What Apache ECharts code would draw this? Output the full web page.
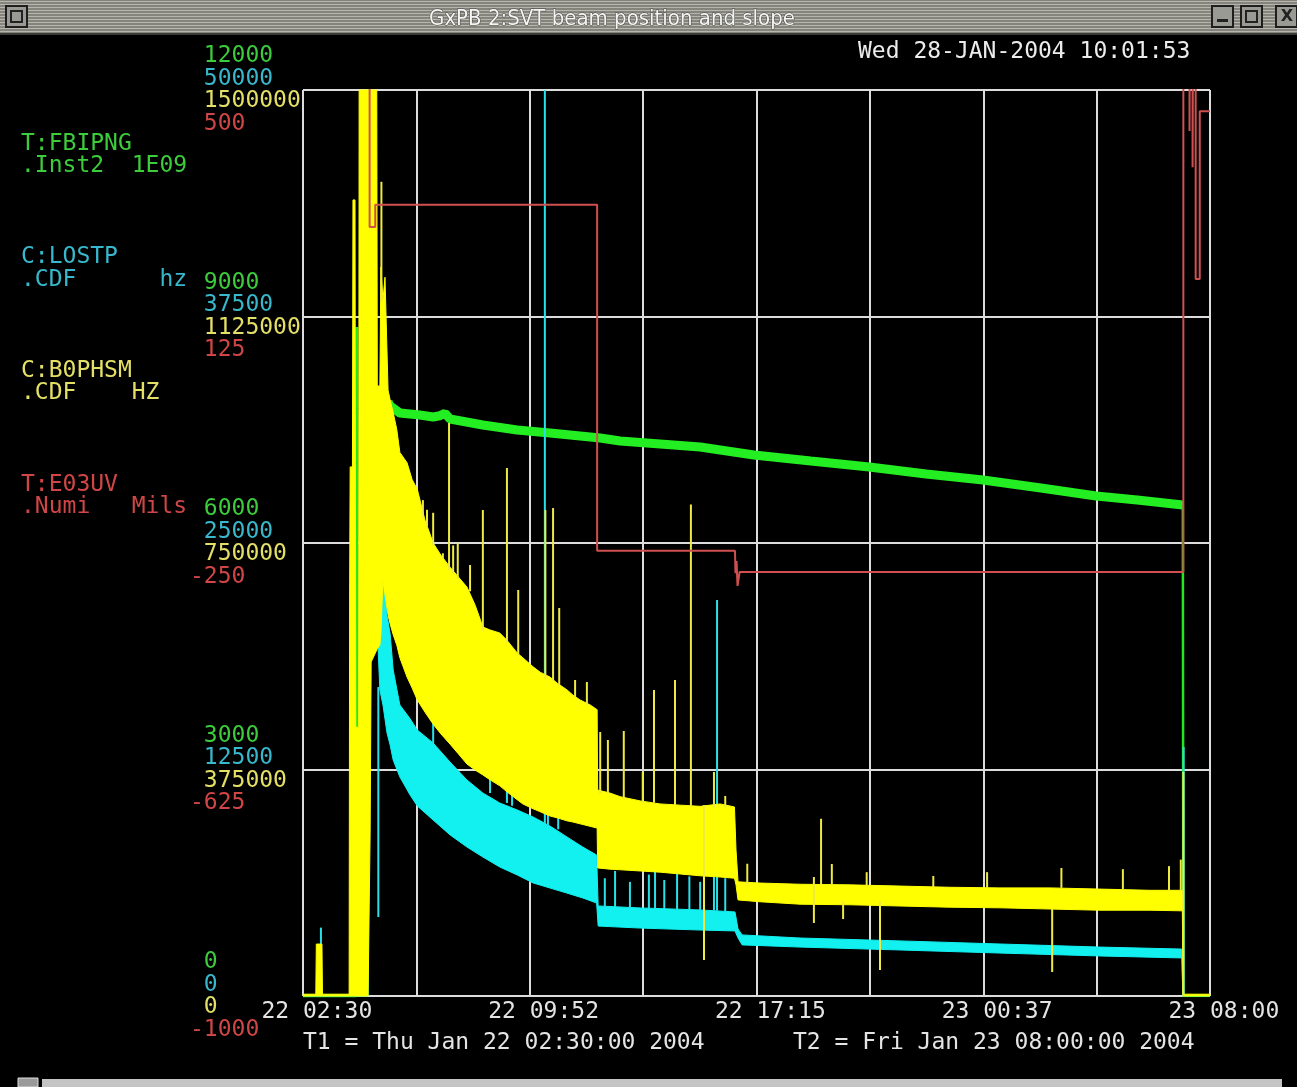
<!DOCTYPE html>
<html><head><meta charset="utf-8">
<script src="https://cdn.jsdelivr.net/npm/echarts@6/dist/echarts.min.js"></script>
<style>html,body{margin:0;padding:0;background:#000;overflow:hidden}#c{width:1297px;height:1087px;}</style>
</head><body><div id="c"></div>
<script>
// ---------- DATA (time in minutes after Thu Jan 22 02:30:00 2004) ----------
const xTickLabels = ['22 02:30', '22 09:52', '22 17:15', '23 00:37', '23 08:00'];
const titleText = 'GxPB 2:SVT beam position and slope';
const stampText = 'Wed 28-JAN-2004 10:01:53';
const t1Text = 'T1 = Thu Jan 22 02:30:00 2004';
const t2Text = 'T2 = Fri Jan 23 08:00:00 2004';
const legendGreen = ['T:FBIPNG', '.Inst2  1E09'];
const legendCyan = ['C:LOSTP', '.CDF      hz'];
const legendYellow = ['C:B0PHSM', '.CDF    HZ'];
const legendRed = ['T:E03UV', '.Numi   Mils'];

// T:E03UV (Mils) - red
const redT = [130, 130, 141, 141, 574, 574, 843, 844, 846, 848, 852, 1718, 1718, 1730, 1730, 1731, 1736, 1736, 1737, 1742, 1742, 1750, 1750, 1770];
const redV = [700, 273, 273, 310, 310, -263, -263, -300, -280, -321, -298, -298, 700, 700, 432, 700, 700, 372, 700, 700, 187, 187, 465, 465];

// T:FBIPNG - green
const greenT = [166, 170, 189, 228, 254, 267, 277, 287, 351, 418, 482, 580, 619, 775, 880, 991, 1105, 1216, 1327, 1440, 1548, 1628, 1717];
const greenV = [7870, 7815, 7722, 7695, 7669, 7685, 7718, 7642, 7563, 7497, 7457, 7391, 7351, 7272, 7166, 7086, 7007, 6914, 6834, 6728, 6623, 6570, 6503];
const greenRiseT = [0, 104, 105, 106, 166];
const greenRiseV = [0, 0, 8860, 3560, 7870];
const greenDropT = [1717, 1718, 1770];
const greenDropV = [6503, 0, 0];

// C:LOSTP (hz) - cyan band, low/high envelope
const cyanT  = [0, 88, 96, 111, 123, 127, 129, 146, 150, 156, 164, 170, 176, 189, 209, 223, 254, 287, 320, 351, 384, 418, 449, 482, 515, 546, 573, 576, 658, 775, 843, 849, 857, 970, 1165, 1360, 1555, 1715, 1717, 1770];
const cyanLo = [0, 0, 0, 0, 0, 0, 19000, 19500, 16900, 16060, 14510, 13850, 13020, 12090, 11090, 10490, 9710, 8890, 8220, 7670, 7120, 6680, 6240, 5960, 5680, 5410, 5130, 3860, 3750, 3640, 3590, 3200, 2820, 2700, 2540, 2370, 2210, 2100, 0, 0];
const cyanHi = [60, 60, 160, 1160, 3090, 5300, 24000, 24000, 25200, 23680, 21000, 20000, 17990, 16060, 15300, 14680, 13960, 12910, 11920, 11200, 10650, 10270, 9880, 9380, 8780, 8220, 7780, 4970, 4860, 4750, 4640, 3700, 3370, 3200, 3040, 2870, 2700, 2590, 60, 60];
// cyan spikes: time, low, high
const cyanSpikeT  = [35, 147, 254, 365, 398, 408, 472, 478, 498, 589, 609, 638, 675, 687, 705, 730, 754, 775, 802, 808, 824, 1718.5];
const cyanSpikeLo = [0, 4360, 13900, 11200, 10650, 10500, 9500, 9400, 9200, 4900, 4900, 4850, 4800, 4800, 4800, 4780, 4770, 4750, 4720, 4700, 4680, 0];
const cyanSpikeHi = [3775, 17050, 16500, 12600, 13000, 13000, 60000, 11000, 10800, 6500, 6900, 6300, 6700, 6900, 6400, 6800, 6600, 6300, 7000, 21850, 6500, 13740];

// C:B0PHSM (HZ) - yellow band, low/high envelope
const yellowT  = [0, 25, 26, 37, 38, 90, 91, 92, 96.5, 97.5, 101.5, 103, 108.5, 109.5, 127, 131, 133, 144, 145, 150, 152, 156, 160, 166, 170, 176, 183, 189, 203, 213, 223, 238, 254, 269, 287, 303, 320, 336, 351, 365, 384, 398, 418, 429, 449, 463, 482, 496, 515, 527, 541, 560, 574, 575, 599, 619, 658, 697, 736, 775, 814, 842, 845, 849, 892, 970, 1068, 1165, 1263, 1360, 1458, 1555, 1653, 1716, 1717.5, 1770];
const yellowLo = [0, 0, 0, 0, 0, 0, 0, 0, 0, 0, 0, 0, 0, 0, 0, 270000, 553000, 573000, 575000, 581000, 600000, 688000, 664000, 631000, 616000, 598000, 581000, 560000, 528000, 510000, 490000, 470000, 450000, 434000, 417000, 401000, 384000, 374000, 366000, 358000, 348000, 338000, 325000, 318000, 310000, 305000, 298000, 295000, 290000, 288000, 285000, 281000, 278000, 212000, 210000, 209000, 207000, 205000, 202000, 199000, 197000, 195000, 184000, 159000, 156000, 152000, 151000, 149000, 147000, 146000, 144000, 142000, 142000, 141000, 0, 0];
const yellowHi = [3000, 3000, 86000, 86000, 3000, 3000, 672000, 876000, 876000, 1318000, 1318000, 445000, 445000, 1600000, 1600000, 1600000, 1600000, 1600000, 1010000, 1010000, 1207000, 1152000, 1190000, 1003000, 987000, 966000, 938000, 900000, 883000, 855000, 839000, 788000, 750000, 730000, 710000, 694000, 677000, 647000, 611000, 606000, 601000, 589000, 568000, 560000, 545000, 536000, 528000, 518000, 507000, 498000, 490000, 482000, 474000, 341000, 336000, 330000, 323000, 318000, 316000, 314000, 318000, 313000, 242000, 189000, 187000, 185000, 184000, 182000, 180000, 179000, 179000, 177000, 175000, 175000, 3000, 3000];
// yellow spikes: time, low, high
const yellowSpikeT  = [153, 234, 242, 254, 273, 285, 293, 302, 326, 351, 398, 420, 473, 488, 500, 531, 554, 580, 595, 626, 663, 685, 726, 757, 782.5, 802, 824, 867, 997, 1011, 1032, 1054, 1126, 1100, 1230, 1335, 1462, 1480, 1600, 1690, 1713, 1718];
const yellowSpikeLo = [1150000, 790000, 778000, 745000, 725000, 705000, 700000, 690000, 670000, 605000, 585000, 565000, 525000, 522000, 515000, 495000, 482000, 335000, 335000, 325000, 320000, 320000, 316000, 314000, 59600, 312000, 312000, 185000, 120900, 184000, 184000, 127500, 43000, 183000, 180000, 179000, 39700, 179000, 177000, 175000, 175000, 0];
const yellowSpikeHi = [1348000, 821000, 805000, 800000, 733000, 948700, 746000, 750000, 713600, 804600, 874200, 672200, 804600, 807900, 642400, 523200, 519900, 437000, 423800, 438700, 370900, 506600, 523200, 813700, 316000, 370900, 331100, 219000, 197000, 293400, 218500, 157000, 156000, 205000, 198700, 205000, 144000, 212000, 210000, 215000, 225800, 370900];

// ---------- CHART ----------
const FONT = '"DejaVu Sans Mono","Liberation Mono",monospace';
const C_GREEN_T = '#3ccc3c', C_CYAN_T = '#38b8cc', C_YEL_T = '#e4e066', C_RED_T = '#d04646';
const GRID_COL = '#dcdcdc';

function pairs(T, V) { return T.map((t, i) => [t, V[i]]); }

function bandSeries(T, LO, HI, color, yIdx, z) {
  return {
    type: 'custom', yAxisIndex: yIdx, z: z, silent: true,
    data: [[T[0], LO[0]]], encode: { x: 0, y: 1 },
    renderItem: function (params, api) {
      const cs = params.coordSys;
      const clampY = p => [p[0], Math.max(cs.y, Math.min(cs.y + cs.height, p[1]))];
      const pts = [];
      for (let i = 0; i < T.length; i++) pts.push(clampY(api.coord([T[i], HI[i]])));
      for (let i = T.length - 1; i >= 0; i--) pts.push(clampY(api.coord([T[i], LO[i]])));
      return { type: 'polygon', shape: { points: pts }, style: { fill: color, stroke: color, lineWidth: 1 } };
    }
  };
}
function spikeSeries(T, LO, HI, color, yIdx, z, w) {
  return {
    type: 'custom', yAxisIndex: yIdx, z: z, silent: true,
    data: T.map((t, i) => [t, LO[i], HI[i]]), encode: { x: 0, y: [1, 2] },
    renderItem: function (params, api) {
      const cs = params.coordSys;
      const a = api.coord([api.value(0), api.value(1)]);
      const b = api.coord([api.value(0), api.value(2)]);
      const cl = y => Math.max(cs.y, Math.min(cs.y + cs.height, y));
      return { type: 'line', shape: { x1: a[0], y1: cl(a[1]), x2: b[0], y2: cl(b[1]) }, style: { stroke: color, lineWidth: w } };
    }
  };
}
function lineSeries(T, V, color, yIdx, z, w) {
  return { type: 'line', yAxisIndex: yIdx, z: z, data: pairs(T, V), showSymbol: false, symbol: 'none', silent: true,
    lineStyle: { color: color, width: w }, clip: true };
}
function yAx(min, max, interval, color, fmt, split) {
  return {
    type: 'value', position: 'left', offset: 0, min: min, max: max, interval: interval,
    axisLine: { show: false }, axisTick: { show: false },
    splitLine: { show: split, showMinLine: true, showMaxLine: true, lineStyle: { color: GRID_COL, width: 2 } },
    axisLabel: { show: true, align: 'left', verticalAlign: 'middle', margin: 113, color: color, fontFamily: FONT, fontSize: 23, lineHeight: 22.5,
      showMinLabel: true, showMaxLabel: true, formatter: fmt }
  };
}
const pad = v => (v < 0 ? '' : ' ') + v;

const graphic = [];
// title bar
graphic.push({ type: 'rect', shape: { x: 0, y: 0, width: 1297, height: 34 }, style: { fill: '#84847c' }, z: 10 });
for (let y = 1; y < 33; y += 3) graphic.push({ type: 'rect', shape: { x: 0, y: y, width: 1297, height: 1 }, style: { fill: '#b6b6ae' }, z: 11 });
graphic.push({ type: 'rect', shape: { x: 0, y: 33, width: 1297, height: 2 }, style: { fill: '#3a3a36' }, z: 11 });
graphic.push({ type: 'text', x: 612, y: 19, z: 12, style: { text: titleText, fill: '#f4f4f4', font: '22px "DejaVu Sans Condensed","DejaVu Sans",sans-serif', textAlign: 'center', textVerticalAlign: 'middle', stroke: '#4a4a44', lineWidth: 1 } });
// window buttons
[6, 1212, 1241, 1276].forEach(x => {
  graphic.push({ type: 'rect', shape: { x: x, y: 6, width: 21, height: 21 }, style: { fill: '#9a9a94', stroke: '#1e1e1e', lineWidth: 2 }, z: 12 });
});
graphic.push({ type: 'rect', shape: { x: 11, y: 11, width: 11, height: 11 }, style: { fill: 'none', stroke: '#222', lineWidth: 2 }, z: 13 });
graphic.push({ type: 'rect', shape: { x: 1217, y: 19, width: 11, height: 3 }, style: { fill: '#222' }, z: 13 });
graphic.push({ type: 'rect', shape: { x: 1246, y: 11, width: 11, height: 11 }, style: { fill: 'none', stroke: '#222', lineWidth: 2 }, z: 13 });
graphic.push({ type: 'text', x: 1287, y: 17, z: 13, style: { text: 'X', fill: '#222', font: 'bold 16px "DejaVu Sans",sans-serif', textAlign: 'center', textVerticalAlign: 'middle' } });
// bottom bar
graphic.push({ type: 'rect', shape: { x: 42, y: 1079, width: 1240, height: 8 }, style: { fill: '#c4c4c4' }, z: 10 });
graphic.push({ type: 'rect', shape: { x: 18, y: 1078, width: 20, height: 9 }, style: { fill: '#9a9a9a', stroke: '#ddd', lineWidth: 1 }, z: 10 });
// texts
function txt(x, y, s, fill) {
  graphic.push({ type: 'text', x: x, y: y, z: 12, style: { text: s, fill: fill, font: '23px ' + FONT, textAlign: 'left', textVerticalAlign: 'middle' } });
}
txt(858, 52, stampText, '#ececec');
txt(21, 144, legendGreen[0], C_GREEN_T); txt(21, 166, legendGreen[1], C_GREEN_T);
txt(21, 257, legendCyan[0], C_CYAN_T); txt(21, 280, legendCyan[1], C_CYAN_T);
txt(21, 371, legendYellow[0], C_YEL_T); txt(21, 393, legendYellow[1], C_YEL_T);
txt(21, 485, legendRed[0], C_RED_T); txt(21, 507, legendRed[1], C_RED_T);
txt(303, 1043, t1Text, '#e4e4e4');
txt(793, 1043, t2Text, '#e4e4e4');

const option = {
  backgroundColor: '#000',
  animation: false,
  grid: { left: 303, top: 90, width: 907, height: 906, show: false, containLabel: false, outerBoundsMode: 'none' },
  xAxis: {
    type: 'value', min: 0, max: 1770, interval: 221.25,
    axisLine: { show: false }, axisTick: { show: false },
    splitLine: { show: true, showMinLine: true, showMaxLine: true, lineStyle: { color: GRID_COL, width: 2 } },
    axisLabel: { show: true, margin: 5, color: '#e4e4e4', fontFamily: FONT, fontSize: 23, align: 'center',
      showMinLabel: true, showMaxLabel: true,
      formatter: function (v) { const k = Math.round(v / 221.25); return k % 2 === 0 ? '  ' + xTickLabels[k / 2] : ''; } }
  },
  yAxis: [
    yAx(0, 12000, 3000, C_GREEN_T, v => pad(v) + '\n\n\n', true),
    yAx(0, 50000, 12500, C_CYAN_T, v => '\n' + pad(v) + '\n\n', false),
    yAx(0, 1500000, 375000, C_YEL_T, v => '\n\n' + pad(v) + '\n', false),
    yAx(-1000, 500, 375, C_RED_T, v => '\n\n\n' + pad(v), false)
  ],
  graphic: graphic,
  series: [
    lineSeries(greenRiseT, greenRiseV, '#22e822', 0, 2, 3),
    lineSeries(greenT, greenV, '#22ee22', 0, 2, 9),
    lineSeries(greenDropT, greenDropV, '#22e822', 0, 2, 2.5),
    bandSeries(cyanT, cyanLo, cyanHi, '#12f0f0', 1, 3),
    spikeSeries(cyanSpikeT, cyanSpikeLo, cyanSpikeHi, '#28e0e8', 1, 3, 2),
    bandSeries(yellowT, yellowLo, yellowHi, '#ffff00', 2, 4),
    spikeSeries(yellowSpikeT, yellowSpikeLo, yellowSpikeHi, '#eeea40', 2, 4, 2),
    lineSeries(redT, redV, '#d05050', 3, 5, 2)
  ]
};
const chart = echarts.init(document.getElementById('c'), null, { renderer: 'canvas' });
chart.setOption(option);
</script></body></html>
